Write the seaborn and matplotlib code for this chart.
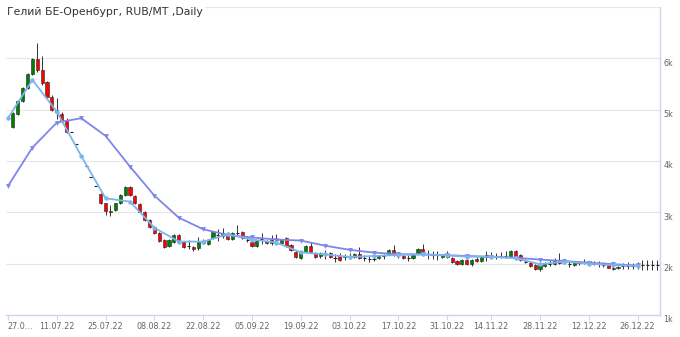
import numpy as np
import pandas as pd
import matplotlib
matplotlib.use("Agg")
import matplotlib.pyplot as plt
import matplotlib.transforms as mtransforms
import seaborn as sns

title = "Гелий БЕ-Оренбург, RUB/MT ,Daily"

# trading days (Russian holiday 04.11 skipped)
start_date = "2022-06-27"
end_date = "2022-12-30"
holidays = ["2022-11-04"]

tick_dates = ["2022-06-27", "2022-07-11", "2022-07-25", "2022-08-08", "2022-08-22",
              "2022-09-05", "2022-09-19", "2022-10-03", "2022-10-17", "2022-10-31",
              "2022-11-14", "2022-11-28", "2022-12-12", "2022-12-26"]
tick_labels = ["27.0…", "11.07.22", "25.07.22", "08.08.22", "22.08.22", "05.09.22",
               "19.09.22", "03.10.22", "17.10.22", "31.10.22", "14.11.22", "28.11.22",
               "12.12.22", "26.12.22"]

y_ticks = [1000, 2000, 3000, 4000, 5000, 6000, 7000]
y_labels = ["1k", "2k", "3k", "4k", "5k", "6k", ""]

# OHLC per trading day (first day has no candle)
open_ = [np.nan, 4670, 4918, 5171, 5430, 5690, 5985, 5775, 5530, 5255,
         4995, 4918, 4800, 4573, 4333, 4105, 3904, 3696, 3514, 3352,
         3177, 3030, 3046, 3177, 3339, 3501, 3325, 3164, 3013, 2852,
         2721, 2592, 2462, 2345, 2430, 2560, 2430, 2345, 2331, 2300,
         2400, 2384, 2495, 2560, 2530, 2590, 2480, 2600, 2625, 2470,
         2430, 2345, 2480, 2440, 2400, 2460, 2400, 2495, 2365, 2234,
         2105, 2234, 2345, 2200, 2140, 2180, 2200, 2120, 2150, 2130,
         2140, 2130, 2195, 2120, 2100, 2100, 2110, 2150, 2180, 2260,
         2170, 2150, 2120, 2110, 2195, 2290, 2180, 2160, 2160, 2130,
         2130, 2110, 2060, 1990, 2070, 1990, 2100, 2060, 2130, 2140,
         2140, 2140, 2150, 2137, 2250, 2170, 2040, 2020, 1975, 1890,
         1950, 2000, 2000, 2080, 2030, 2000, 1980, 2010, 2030, 2020,
         2010, 1990, 1980, 1965, 1925, 1920, 1950, 1960, 1960, 1960,
         1975, 1975, 1975, 1975]
high = [np.nan, 4960, 5190, 5450, 5710, 6000, 6300, 6050, 5560, 5280,
        5230, 4960, 4830, 4573, 4333, 4105, 3904, 3696, 3514, 3370,
        3190, 3140, 3190, 3350, 3520, 3520, 3340, 3180, 3030, 2870,
        2740, 2610, 2480, 2480, 2580, 2580, 2450, 2470, 2350, 2520,
        2480, 2480, 2640, 2680, 2700, 2610, 2610, 2750, 2640, 2530,
        2450, 2470, 2600, 2460, 2560, 2570, 2490, 2510, 2380, 2250,
        2250, 2360, 2420, 2220, 2220, 2260, 2220, 2180, 2200, 2180,
        2200, 2210, 2325, 2160, 2140, 2140, 2170, 2190, 2280, 2360,
        2230, 2170, 2170, 2180, 2310, 2390, 2260, 2240, 2240, 2180,
        2250, 2130, 2080, 2090, 2090, 2100, 2130, 2150, 2250, 2220,
        2210, 2220, 2250, 2270, 2270, 2190, 2100, 2040, 1990, 2000,
        2040, 2080, 2120, 2200, 2080, 2060, 2050, 2060, 2090, 2060,
        2050, 2050, 2040, 1990, 1950, 1960, 2010, 2030, 2020, 2030,
        2070, 2070, 2070, 2070]
low = [np.nan, 4640, 4900, 5150, 5410, 5670, 5740, 5490, 5240, 4980,
       4820, 4740, 4540, 4573, 4333, 4105, 3904, 3696, 3514, 3160,
       2950, 2920, 3030, 3160, 3320, 3320, 3160, 3000, 2840, 2700,
       2580, 2430, 2310, 2330, 2410, 2410, 2310, 2290, 2240, 2270,
       2380, 2360, 2480, 2450, 2500, 2460, 2460, 2560, 2480, 2420,
       2330, 2320, 2380, 2380, 2360, 2380, 2380, 2330, 2250, 2120,
       2090, 2220, 2220, 2120, 2120, 2100, 2120, 2040, 2060, 2080,
       2090, 2110, 2090, 2060, 2040, 2060, 2090, 2100, 2160, 2150,
       2120, 2100, 2060, 2090, 2180, 2180, 2100, 2100, 2080, 2110,
       2120, 2010, 1970, 1970, 1970, 1960, 2040, 2040, 2060, 2120,
       2100, 2120, 2120, 2120, 2120, 2050, 2010, 1940, 1870, 1860,
       1930, 1960, 1980, 1990, 1990, 1930, 1960, 1970, 1990, 1980,
       1980, 1940, 1940, 1910, 1880, 1890, 1900, 1900, 1890, 1890,
       1880, 1880, 1880, 1880]
close = [np.nan, 4930, 5171, 5430, 5690, 5985, 5775, 5516, 5255, 4995,
         4960, 4787, 4560, 4573, 4333, 4105, 3904, 3696, 3514, 3177,
         3027, 3000, 3177, 3339, 3501, 3339, 3177, 3013, 2852, 2721,
         2592, 2448, 2331, 2462, 2560, 2430, 2331, 2345, 2280, 2430,
         2450, 2462, 2625, 2560, 2590, 2480, 2590, 2600, 2495, 2470,
         2345, 2450, 2480, 2400, 2470, 2460, 2470, 2345, 2267, 2137,
         2234, 2345, 2234, 2137, 2200, 2180, 2137, 2120, 2080, 2140,
         2140, 2195, 2110, 2120, 2100, 2100, 2150, 2150, 2260, 2170,
         2170, 2120, 2120, 2160, 2290, 2200, 2180, 2160, 2160, 2160,
         2165, 2030, 1990, 2070, 1990, 2080, 2060, 2130, 2160, 2140,
         2140, 2140, 2150, 2250, 2137, 2070, 2040, 1955, 1890, 1975,
         2020, 2000, 2080, 2010, 2030, 2000, 2030, 2010, 2030, 2020,
         1990, 1990, 1980, 1925, 1890, 1935, 1950, 1960, 1960, 1960,
         1975, 1975, 1975, 1975]

# weekly averages (values at each week's first trading day)
ma_fast = [4834, 5580, 4962, 4099, 3274, 3208, 2700, 2430, 2430, 2570,
           2470, 2410, 2220, 2180, 2130, 2150, 2170, 2180, 2160, 2136,
           2136, 2105, 1990, 2040, 2000, 1970, 1955]
ma_slow = [3514, 4261, 4748, 4834, 4489, 3891, 3325, 2896, 2670, 2560,
           2510, 2470, 2450, 2350, 2270, 2215, 2185, 2180, 2165, 2150,
           2135, 2115, 2080, 2050, 2020, 1990, 1965]

# ---------------------------------------------------------------
dates = pd.bdate_range(start_date, end_date)
dates = dates[~dates.isin(pd.to_datetime(holidays))]
pos = np.arange(len(dates))

o = np.array(open_, float)
h = np.array(high, float)
l = np.array(low, float)
c = np.array(close, float)

week_first = pd.Series(pos, index=dates).groupby(dates.to_period("W")).first().values
df_ma = pd.DataFrame({"x": week_first, "fast": ma_fast, "slow": ma_slow})

sns.set_theme(style="white")
plt.rcParams["font.family"] = ["DejaVu Sans"]

W, H = 680, 337
fig = plt.figure(figsize=(W / 100, H / 100), dpi=100)
ax = fig.add_axes([6 / W, 1 - 315 / H, (660 - 6) / W, (315 - 7) / H])

ax.set_xlim(-0.41, 133.6)
ax.set_ylim(1000, 7000)

# grid
for yv in y_ticks:
    ax.axhline(yv, color="#e6e6e6", lw=0.8, zorder=0)

# candles
valid = ~np.isnan(o)
up = valid & (c > o)
down = valid & (c < o)
flat = valid & (c == o)
wick = valid & (h > l)
ax.vlines(pos[wick], l[wick], h[wick], color="#333333", lw=0.7, zorder=2)
bw = 0.64
ax.bar(pos[up], (c - o)[up], bottom=o[up], width=bw, color="#008000",
       edgecolor="#222222", linewidth=0.4, zorder=3)
ax.bar(pos[down], (o - c)[down], bottom=c[down], width=bw, color="#ff0000",
       edgecolor="#222222", linewidth=0.4, zorder=3)
ax.hlines(o[flat], pos[flat] - bw / 2, pos[flat] + bw / 2, color="#222222", lw=0.8, zorder=3)

# moving averages
sns.lineplot(data=df_ma, x="x", y="slow", ax=ax, color="#8085e9", lw=1.3,
             marker="v", markersize=3.5, markeredgewidth=0, zorder=5)
sns.lineplot(data=df_ma, x="x", y="fast", ax=ax, color="#7cb5ec", lw=1.3,
             marker="o", markersize=3.2, markeredgewidth=0, zorder=6)

ax.set_xlabel("")
ax.set_ylabel("")

# x axis
tick_pos = [dates.get_loc(pd.Timestamp(d)) for d in tick_dates]
ax.set_xticks(tick_pos)
ax.set_xticklabels(tick_labels)
ax.tick_params(axis="x", direction="out", length=3.6, width=0.8, color="#ccd6eb",
               labelsize=5.8, labelcolor="#666666", pad=1.5, bottom=True)
first = ax.get_xticklabels()[0]
first.set_horizontalalignment("left")
first.set_transform(first.get_transform() +
                    mtransforms.ScaledTranslation(-1 / 100, 0, fig.dpi_scale_trans))

# y axis on right
ax.yaxis.tick_right()
ax.set_yticks(y_ticks)
ax.set_yticklabels(y_labels)
ax.tick_params(axis="y", length=0, labelsize=5.8, labelcolor="#666666", pad=2.5)
off = mtransforms.ScaledTranslation(0, -4 / 100, fig.dpi_scale_trans)
for lab in ax.get_yticklabels():
    lab.set_transform(lab.get_transform() + off)

ax.spines["left"].set_visible(False)
ax.spines["top"].set_visible(False)
ax.spines["bottom"].set_color("#ccd6eb")
ax.spines["bottom"].set_linewidth(1.0)
ax.spines["right"].set_color("#ccd6eb")
ax.spines["right"].set_linewidth(1.0)
ax.grid(False)

fig.text(7 / W, 1 - 12 / H, title, fontsize=7.8, color="#333333", va="center", ha="left",
         bbox=dict(facecolor="white", edgecolor="none", pad=1.5), zorder=10)

fig.savefig("out.png", dpi=100)
